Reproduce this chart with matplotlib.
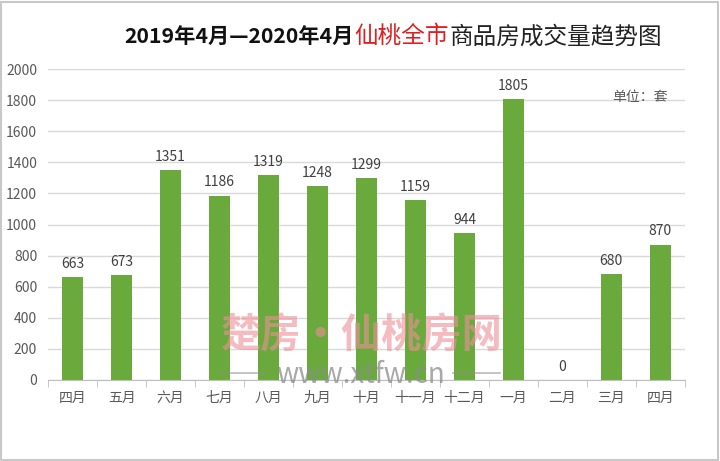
import matplotlib.pyplot as plt
from matplotlib.patches import Rectangle
from matplotlib.lines import Line2D
import numpy as np

plt.rcParams['font.family'] = ['Noto Sans CJK SC', 'DejaVu Sans']

months = ['四月', '五月', '六月', '七月', '八月', '九月', '十月', '十一月', '十二月', '一月', '二月', '三月', '四月']
sales = [663, 673, 1351, 1186, 1319, 1248, 1299, 1159, 944, 1805, 0, 680, 870]
yticks = [0, 200, 400, 600, 800, 1000, 1200, 1400, 1600, 1800, 2000]

fig = plt.figure(figsize=(7.2, 4.61), dpi=100)
ax = fig.add_axes([0.067, 0.176, 0.884, 0.674])

x = np.arange(len(months))
ax.bar(x, sales, width=0.42, color='#6aaa3c', zorder=2)
for xi, v in zip(x, sales):
    ax.text(xi, v + 40, str(v), ha='center', va='bottom', fontsize=10, color='#404040')

ax.set_ylim(0, 2000)
ax.set_xlim(-0.5, len(months) - 0.5)
ax.set_yticks(yticks)
ax.set_yticklabels([str(t) for t in yticks], fontsize=10, color='#595959')
ax.yaxis.grid(True, color='#d9d9d9', linewidth=1, zorder=0)
ax.tick_params(axis='y', length=0, pad=8)

ax.set_xticks(x)
ax.set_xticklabels(months, fontsize=10, color='#595959')
ax.set_xticks(np.arange(-0.5, len(months)), minor=True)
ax.tick_params(axis='x', which='major', length=0, pad=8)
ax.tick_params(axis='x', which='minor', length=5, color='#bfbfbf')

for s in ['top', 'right', 'left']:
    ax.spines[s].set_visible(False)
ax.spines['bottom'].set_color('#bfbfbf')

# title built from three pieces placed one after the other
r = fig.canvas.get_renderer()
t1 = fig.text(0.172, 0.92, '2019年4月—2020年4月', fontsize=15.3, fontweight='bold',
              color='#111111', ha='left', va='center')
w1 = t1.get_window_extent(r).width / fig.bbox.width
t2 = fig.text(0.172 + w1 + 0.002, 0.92, '仙桃全市', fontsize=17, color='#e02020', ha='left', va='center')
w2 = t2.get_window_extent(r).width / fig.bbox.width
fig.text(0.172 + w1 + w2 + 0.003, 0.92, '商品房成交量趋势图', fontsize=17, color='#222222',
         ha='left', va='center')

fig.text(0.928, 0.79, '单位：套', fontsize=10, color='#595959', ha='right', va='center')

# watermark
fig.text(0.503, 0.271, '楚房·仙桃房网', fontsize=29, color='#ee8f98', alpha=0.6,
         ha='center', va='center', fontweight='bold')
fig.text(0.501, 0.186, 'www.xtfw.cn', fontsize=20, color='#8c8c8c', alpha=0.75, ha='center', va='center')
for x0, x1 in [(0.306, 0.371), (0.629, 0.694)]:
    fig.add_artist(Line2D([x0, x1], [0.191, 0.191], transform=fig.transFigure, color='#8c8c8c',
                          alpha=0.6, linewidth=1.2))

fig.patches.append(Rectangle((0.002, 0.003), 0.995, 0.993, transform=fig.transFigure,
                             fill=False, edgecolor='#c8c8c8', linewidth=1.5))

fig.savefig('out.png', dpi=100)
